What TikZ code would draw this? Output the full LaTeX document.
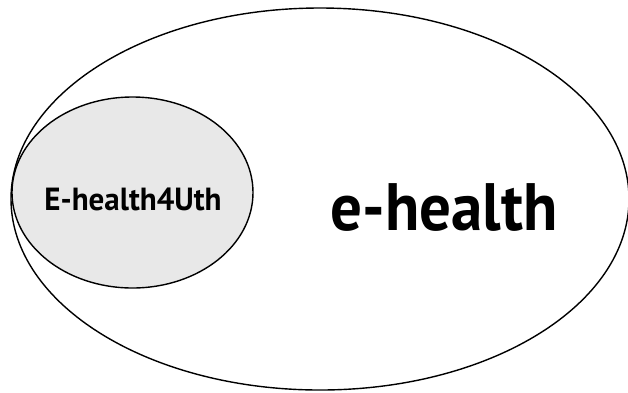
\documentclass[tikz,border=0pt]{standalone}
\usepackage{fontspec}
\setmainfont{PT Sans}
\usetikzlibrary{shapes.geometric}
\definecolor{innerfill}{HTML}{E8E8E8}
\tikzset{
  oval/.style={ellipse, draw=black, line width=1.4pt, inner sep=0pt},
  smalllabel/.style={font=\bfseries\fontsize{32}{34}\selectfont},
  biglabel/.style={font=\bfseries\fontsize{67}{70}\selectfont}
}
\begin{document}
\begin{tikzpicture}[x=1pt,y=-1pt]
\useasboundingbox (0,0) rectangle (628,392);
\node[oval, minimum width=618pt, minimum height=382pt] (outer) at (320,199) {};
\node[oval, fill=innerfill, minimum width=241pt, minimum height=191pt] (inner) at (132.5,192.5) {};
\node[smalllabel, xscale=0.97, anchor=base] (innertext) at (133,210) {E-health4Uth};
\node[biglabel, xscale=0.94, anchor=base] (outertext) at (444,230) {e-health};
\end{tikzpicture}
\end{document}
